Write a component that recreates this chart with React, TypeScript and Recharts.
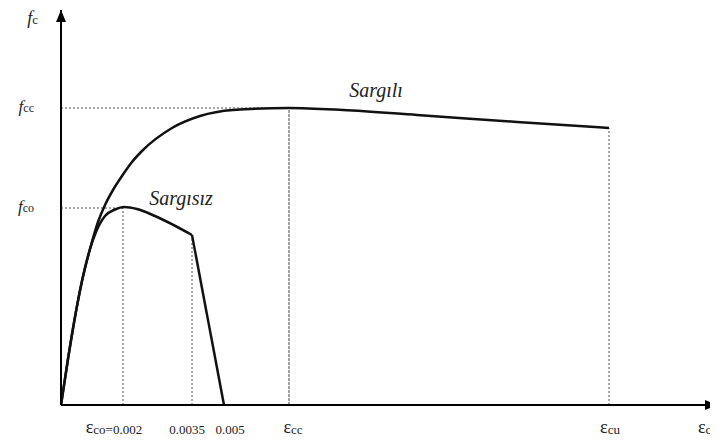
import React from 'react';
import { LineChart, Line, XAxis, YAxis, ReferenceLine, ReferenceDot, Label } from 'recharts';

// Schematic units (strain axis and stress axis)
const X_MAX = 656;
const Y_MAX = 395;

// Key points
const EPS_CO = 62; // εco = 0.002
const EPS_0035 = 131; // 0.0035
const EPS_005 = 163; // 0.005
const EPS_CC = 228; // εcc
const EPS_CU = 548; // εcu
const F_CO = 197;
const F_CC = 297;

// Confined (Sargılı) curve
const confinedX = [0, 7, 14, 21, 29, 37, 44, 52, 61, 71, 81, 111, 139, 172, 228, 282, 356, 456, 548];
const confinedY = [0, 46, 88, 124, 156, 183, 200, 215, 229, 243, 254, 277, 289, 295, 297, 295, 290, 283, 277];

// Unconfined (Sargısız) curve, rising part
const unconfinedX = [0, 7, 14, 21, 29, 35, 44, 54, 63, 76, 94, 131];
const unconfinedY = [0, 46, 88, 124, 156, 173, 189, 195.5, 198, 196, 189, 170];
// Unconfined descending branch (straight)
const unconfinedTailX = [131, 163];
const unconfinedTailY = [170, 0];

// Tick labels
const strainTickValues = [EPS_CO, EPS_0035, EPS_005, EPS_CC, EPS_CU];
const strainTickLabels = ['ε_co=0.002', '0.0035', '0.005', 'ε_cc', 'ε_cu'];
const stressTickValues = [F_CO, F_CC];
const stressTickLabels = ['f_co', 'f_cc'];

const zip = (xs: number[], ys: number[]) => xs.map((x, i) => ({ x, y: ys[i] }));
const confinedData = zip(confinedX, confinedY);
const unconfinedData = zip(unconfinedX, unconfinedY);
const unconfinedTail = zip(unconfinedTailX, unconfinedTailY);

const FONT = "'Liberation Serif', 'Times New Roman', Times, 'DejaVu Serif', serif";
const fontStyle = { fontFamily: FONT };
const X_TICK_DX = [-9, -5, 6, 4, 1];

const XTick = (props: any) => {
  const { x, y, payload, index } = props;
  const i = strainTickValues.indexOf(payload.value);
  const label = strainTickLabels[i >= 0 ? i : index] || '';
  const dx = X_TICK_DX[i >= 0 ? i : index] || 0;
  const parts = label.split('_');
  return (
    <text x={x + dx} y={y + 28} textAnchor="middle" style={fontStyle} fill="#222">
      {parts.length > 1 ? (
        <>
          <tspan fontSize={18}>{parts[0]}</tspan>
          <tspan fontSize={13} dy={1}>{parts[1]}</tspan>
        </>
      ) : (
        <tspan fontSize={13} dy={1}>{parts[0]}</tspan>
      )}
    </text>
  );
};

const YTick = (props: any) => {
  const { x, y, payload, index } = props;
  const i = stressTickValues.indexOf(payload.value);
  const label = stressTickLabels[i >= 0 ? i : index] || '';
  const parts = label.split('_');
  return (
    <text x={x - 27} y={y + 4} textAnchor="end" style={fontStyle} fill="#222">
      <tspan fontSize={17} fontStyle="italic">{parts[0]}</tspan>
      <tspan fontSize={12}>{parts[1]}</tspan>
    </text>
  );
};

const ArrowRight = (p: any) => (
  <polygon points={`${p.cx},${p.cy} ${p.cx - 12},${p.cy - 5} ${p.cx - 12},${p.cy + 5}`} fill="#000" />
);
const ArrowUp = (p: any) => (
  <polygon points={`${p.cx},${p.cy} ${p.cx - 5},${p.cy + 12} ${p.cx + 5},${p.cy + 12}`} fill="#000" />
);

const curveLabel = (text: string) => (p: any) => (
  <text x={p.cx} y={p.cy} textAnchor="middle" style={fontStyle} fontStyle="italic" fontSize={20} fill="#222">
    {text}
  </text>
);

const dotted = { stroke: '#555', strokeDasharray: '2 2', strokeWidth: 1 };

export default function App() {
  return (
    <LineChart width={710} height={440} margin={{ top: 2, right: 1, bottom: 0, left: 0 }}>
      <XAxis
        type="number"
        dataKey="x"
        domain={[0, X_MAX]}
        ticks={strainTickValues}
        interval={0}
        tick={<XTick />}
        tickLine={false}
        tickSize={0}
        tickMargin={0}
        height={43}
        axisLine={{ stroke: '#000', strokeWidth: 2 }}
        allowDataOverflow
      >
        <Label
          content={(p: any) => {
            const vb = p.viewBox || { x: 53, y: 397 };
            return (
              <text x={vb.x + 637} y={vb.y + 28} textAnchor="start" style={fontStyle} fill="#222">
                <tspan fontSize={18}>ε</tspan>
                <tspan fontSize={13} dy={1}>c</tspan>
              </text>
            );
          }}
        />
      </XAxis>
      <YAxis
        type="number"
        dataKey="y"
        domain={[0, Y_MAX]}
        ticks={stressTickValues}
        interval={0}
        tick={<YTick />}
        tickLine={false}
        tickSize={0}
        tickMargin={0}
        width={53}
        axisLine={{ stroke: '#000', strokeWidth: 2 }}
        allowDataOverflow
      >
        <Label
          content={(p: any) => {
            const vb = p.viewBox || { x: 0, y: 2 };
            return (
              <text x={vb.x + 30} y={vb.y + 14} textAnchor="end" style={fontStyle} fill="#222">
                <tspan fontSize={18} fontStyle="italic">f</tspan>
                <tspan fontSize={13}>c</tspan>
              </text>
            );
          }}
        />
      </YAxis>

      <ReferenceLine segment={[{ x: 0, y: F_CC }, { x: EPS_CC, y: F_CC }]} {...dotted} />
      <ReferenceLine segment={[{ x: 0, y: F_CO }, { x: EPS_CO, y: F_CO }]} {...dotted} />
      <ReferenceLine segment={[{ x: EPS_CO, y: 0 }, { x: EPS_CO, y: 198 }]} {...dotted} />
      <ReferenceLine segment={[{ x: EPS_0035, y: 0 }, { x: EPS_0035, y: 170 }]} {...dotted} />
      <ReferenceLine segment={[{ x: EPS_CC, y: 0 }, { x: EPS_CC, y: F_CC }]} stroke="#444" strokeDasharray="3 1" strokeWidth={1} />
      <ReferenceLine segment={[{ x: EPS_CU, y: 0 }, { x: EPS_CU, y: 277 }]} {...dotted} />

      <Line data={confinedData} dataKey="y" type="monotone" stroke="#111" strokeWidth={2.5} dot={false} activeDot={false} isAnimationActive={false} />
      <Line data={unconfinedData} dataKey="y" type="monotone" stroke="#111" strokeWidth={2.5} dot={false} activeDot={false} isAnimationActive={false} />
      <Line data={unconfinedTail} dataKey="y" type="linear" stroke="#111" strokeWidth={2.5} dot={false} activeDot={false} isAnimationActive={false} />

      <ReferenceDot x={315} y={308} r={1} shape={curveLabel('Sargılı')} />
      <ReferenceDot x={120} y={200} r={1} shape={curveLabel('Sargısız')} />
      <ReferenceDot x={X_MAX} y={0} r={1} shape={ArrowRight} />
      <ReferenceDot x={0} y={Y_MAX} r={1} shape={ArrowUp} />
    </LineChart>
  );
}
